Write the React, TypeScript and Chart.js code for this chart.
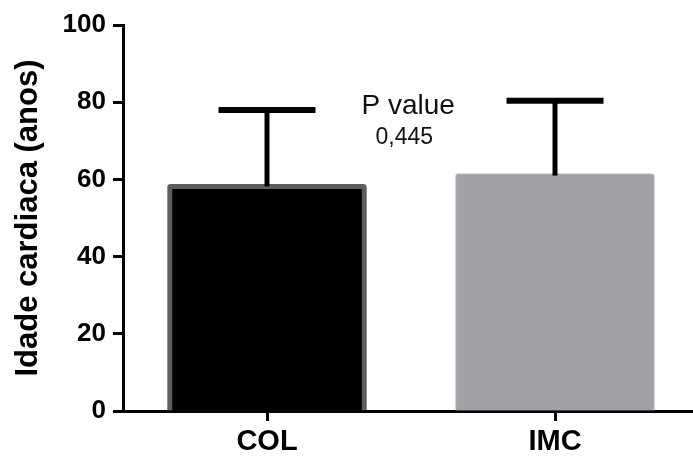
import React, { useEffect, useRef } from "react";
import { Chart, registerables } from "chart.js";

Chart.register(...registerables);

// ---- data ----
const categories = ["COL", "IMC"];
const means = [58.7, 61.5];
const sds = [19.3, 18.9];
const yTicks = [0, 20, 40, 60, 80, 100];
const yTitle = "Idade cardiaca (anos)";
const pValueLines = ["P value", "0,445"];
// annotation anchor: category-index position and y value for first line baseline
const pValueAnchorX = [0.48];
const pValueAnchorY = [77];

const FONT = "'Liberation Sans', Arial, Helvetica, sans-serif";

const errorBarPlugin = {
  id: "errorBars",
  afterDatasetsDraw(chart: any) {
    const ctx = chart.ctx;
    const y = chart.scales.y;
    const meta = chart.getDatasetMeta(0);
    ctx.save();
    ctx.strokeStyle = "#000";
    meta.data.forEach((bar: any, i: number) => {
      const x = bar.x;
      const yBase = y.getPixelForValue(means[i]);
      const yTop = y.getPixelForValue(means[i] + sds[i]);
      ctx.lineWidth = 5;
      ctx.beginPath();
      ctx.moveTo(x, yBase + 2);
      ctx.lineTo(x, yTop);
      ctx.stroke();
      ctx.lineWidth = 6;
      ctx.beginPath();
      ctx.moveTo(x - 48.5, yTop);
      ctx.lineTo(x + 48.5, yTop);
      ctx.stroke();
    });
    ctx.restore();
  },
};

// category tick marks under the x axis, at each category centre
const xTickPlugin = {
  id: "xTickMarks",
  afterDraw(chart: any) {
    const ctx = chart.ctx;
    const xs = chart.scales.x;
    const bottom = chart.chartArea.bottom;
    ctx.save();
    ctx.strokeStyle = "#000";
    ctx.lineWidth = 3;
    xs.ticks.forEach((_t: any, i: number) => {
      const px = Math.round(xs.getPixelForTick(i)) + 0.5;
      ctx.beginPath();
      ctx.moveTo(px, bottom);
      ctx.lineTo(px, bottom + 10);
      ctx.stroke();
    });
    ctx.restore();
  },
};

const pValuePlugin = {
  id: "pValue",
  afterDatasetsDraw(chart: any) {
    const ctx = chart.ctx;
    const xs = chart.scales.x;
    const ys = chart.scales.y;
    const x = xs.getPixelForValue(pValueAnchorX[0]);
    const y = ys.getPixelForValue(pValueAnchorY[0]);
    ctx.save();
    ctx.fillStyle = "#111";
    ctx.textAlign = "center";
    ctx.textBaseline = "alphabetic";
    ctx.font = `28px ${FONT}`;
    ctx.fillText(pValueLines[0], x + 3, y);
    ctx.font = `23px ${FONT}`;
    ctx.fillText(pValueLines[1], x - 1, y + 30);
    ctx.restore();
  },
};

export default function App() {
  const ref = useRef<HTMLCanvasElement | null>(null);

  useEffect(() => {
    if (!ref.current) return;
    const chart = new Chart(ref.current, {
      type: "bar",
      data: {
        labels: categories,
        datasets: [
          {
            data: means,
            backgroundColor: ["#000000", "#a2a1a6"],
            borderColor: ["#5e5e5e", "#c4c3c7"],
            borderWidth: [5, 1],
            borderRadius: 3,
            barThickness: 199,
          },
        ],
      },
      options: {
        responsive: false,
        maintainAspectRatio: false,
        devicePixelRatio: 1,
        animation: false,
        layout: { padding: { top: 25, left: 0, right: 0, bottom: 0 } },
        plugins: {
          legend: { display: false },
          tooltip: { enabled: false },
        },
        scales: {
          x: {
            z: 1,
            offset: true,
            grid: {
              offset: false,
              drawOnChartArea: false,
              drawTicks: true,
              tickLength: 10,
              tickWidth: 3,
              tickColor: "#000",
            },
            border: { display: true, color: "#000", width: 3 },
            ticks: {
              color: "#000",
              padding: 4,
              font: { family: FONT, size: 29, weight: "bold" },
            },
            afterFit: (s: any) => {
              s.height = 47;
            },
          },
          y: {
            z: 1,
            min: 0,
            max: 100,
            afterBuildTicks: (s: any) => {
              s.ticks = yTicks.map((v) => ({ value: v }));
            },
            grid: {
              drawOnChartArea: false,
              drawTicks: true,
              tickLength: 10,
              tickWidth: 3,
              tickColor: "#000",
            },
            border: { display: true, color: "#000", width: 3 },
            ticks: {
              color: "#000",
              padding: 7,
              font: { family: FONT, size: 26, weight: "bold" },
            },
            title: {
              display: true,
              text: yTitle,
              color: "#000",
              font: { family: FONT, size: 31, weight: "bold" },
              padding: { top: 10, bottom: 0 },
            },
            afterFit: (s: any) => {
              s.width = 123;
            },
          },
        },
      },
      plugins: [errorBarPlugin, pValuePlugin, xTickPlugin],
    });
    return () => chart.destroy();
  }, []);

  return (
    <div
      style={{
        position: "fixed",
        left: 0,
        top: 0,
        width: 693,
        height: 458,
        overflow: "hidden",
        background: "#fff",
      }}
    >
      <canvas ref={ref} width={699} height={458} style={{ display: "block" }} />
    </div>
  );
}
